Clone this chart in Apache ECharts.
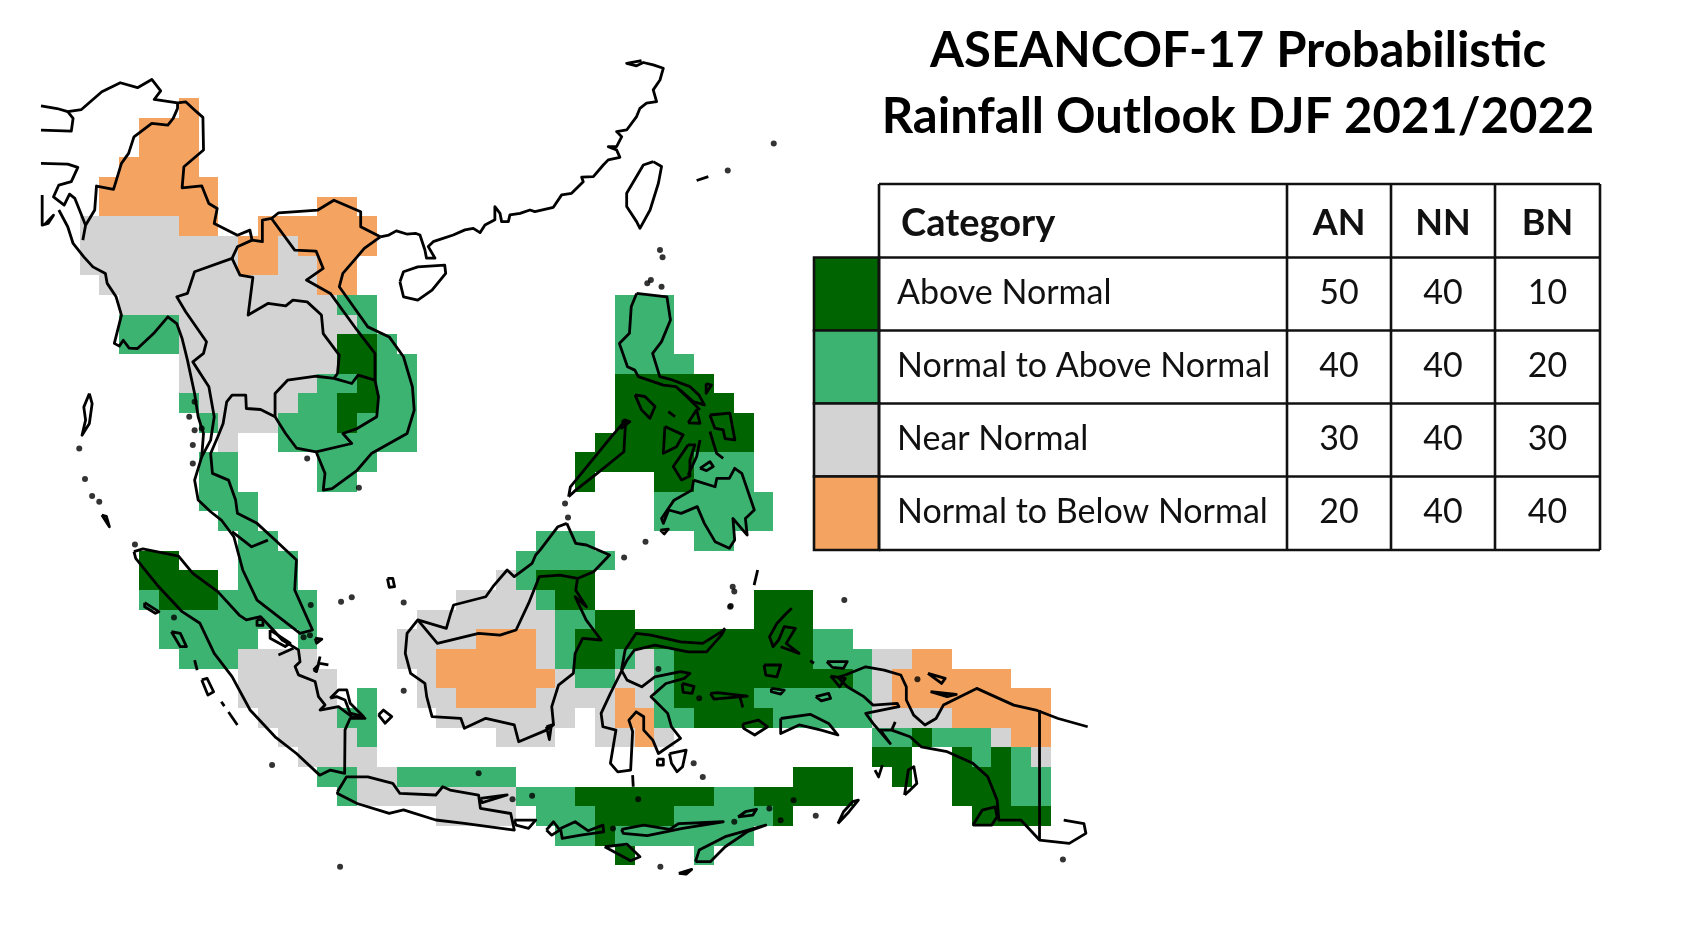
<!DOCTYPE html>
<html><head><meta charset="utf-8">
<style>html,body{margin:0;padding:0;background:#fff}#c{width:1704px;height:945px}</style>
<script src="https://cdn.jsdelivr.net/npm/echarts@6/dist/echarts.min.js"></script>
</head><body><div id="c"></div>
<script>
const titleLines = ["ASEANCOF-17 Probabilistic", "Rainfall Outlook DJF 2021/2022"];
const tableHeader = ["Category", "AN", "NN", "BN"];
const categories = ["Above Normal", "Normal to Above Normal", "Near Normal", "Normal to Below Normal"];
const anValues = [50, 40, 30, 20];
const nnValues = [40, 40, 40, 40];
const bnValues = [10, 20, 30, 40];
const categoryColors = ["#006400", "#3CB371", "#D3D3D3", "#F4A460"];

// one-degree cells, as runs: [lat, lonStart, lonEnd]
const aboveNormalRuns = [[16,106,107],[15,106,107],[14,107,107],[13,106,107],[12,106,106],
[14,120,124],[13,120,125],[12,120,126],[11,119,126],[10,118,123],[9,118,118],[9,122,123],
[5,96,97],[4,96,99],[4,116,118],[3,97,99],[3,117,118],[3,127,129],[2,119,120],[2,127,129],[1,118,129],
[0,118,119],[0,123,129],[-1,123,131],[-2,123,126],[-3,124,127],[-4,135,135],[-5,133,134],[-5,137,137],[-5,139,139],
[-6,129,131],[-6,134,134],[-6,137,139],[-7,118,124],[-7,127,131],[-7,137,139],[-8,119,122],[-8,128,128],[-8,138,141],[-9,119,119],[-10,120,120]];
const normalToAboveRuns = [[18,106,107],[17,95,97],[17,107,107],[16,95,97],[16,108,108],[15,108,109],[14,105,106],[14,108,109],
[13,98,98],[13,104,105],[13,108,109],[12,99,99],[12,103,105],[12,107,109],[11,103,109],[10,99,100],[10,105,107],[9,99,100],[9,105,106],
[8,99,101],[7,100,101],[6,101,102],[6,116,118],[18,120,122],[17,120,122],[16,120,122],[15,120,123],[10,124,126],[9,124,126],[8,122,127],[7,122,127],[6,124,125],
[5,101,103],[5,115,119],[4,101,103],[4,115,115],[3,96,96],[3,100,104],[3,116,116],[2,97,104],[2,117,118],[1,97,101],[1,104,104],[1,117,117],[1,130,131],
[0,98,100],[0,117,117],[0,120,120],[0,122,122],[0,130,132],[-1,118,119],[-1,122,122],[-1,132,132],[-2,107,107],[-2,122,122],[-2,127,132],
[-3,106,107],[-3,122,123],[-3,128,132],[-4,107,107],[-4,133,134],[-4,136,138],[-5,138,138],[-5,140,140],[-6,105,106],[-6,109,114],[-6,140,141],
[-7,106,106],[-7,115,117],[-7,125,126],[-7,140,141],[-8,116,118],[-8,123,127],[-9,117,118],[-9,120,126],[-10,124,124]];
const nearNormalRuns = [[22,93,97],[21,93,100],[21,103,103],[20,93,100],[20,103,104],[19,94,104],[18,95,105],[17,98,106],[16,98,105],[15,98,105],[14,98,104],
[13,99,103],[12,100,102],[11,100,100],[4,114,114],[3,112,115],[2,110,116],[1,109,112],[1,116,116],[0,101,104],[0,109,110],[0,116,116],[0,121,121],[0,133,134],
[-1,101,105],[-1,110,110],[-1,117,117],[-1,120,121],[-1,133,133],[-2,101,105],[-2,110,111],[-2,116,119],[-2,121,121],[-2,133,133],
[-3,102,105],[-3,111,117],[-3,119,119],[-3,133,136],[-4,103,106],[-4,114,116],[-4,119,120],[-4,122,122],[-4,139,139],[-5,104,107],[-5,141,141],[-6,107,108],[-7,107,114],[-8,111,114]];
const normalToBelowRuns = [[28,98,98],[27,96,98],[26,96,98],[25,95,98],[24,94,99],[23,94,99],[23,105,106],[22,98,99],[22,102,107],[21,101,102],[21,104,107],
[20,101,102],[20,105,106],[19,105,106],[1,113,115],[0,111,115],[0,135,136],[-1,111,116],[-1,134,139],[-2,112,115],[-2,120,120],[-2,134,141],[-3,120,121],[-3,137,141],[-4,121,121],[-4,140,141]];

// borders and coasts as [lon, lat, lon, lat, ...]
const mainlandNorthBorder = [90.55,28.12,91.36,27.98,91.9,27.82,92.59,27.93,93.62,28.83,94.55,29.29,95.42,29.04,96.14,29.46,96.59,28.88,96.26,28.44,97.44,28.27,97.85,28.32,98.39,27.82,98.72,27.53,98.75,25.87,97.76,25.02,97.67,23.95,98.66,24.05,99.02,23.15,99.44,22.9,99.29,22.14,100.46,21.54,101.09,21.8,101.2,21.29,101.72,21.21,101.72,22.31,102.18,22.39,102.54,22.68,104.52,22.82,105.33,23.32,106.68,22.73,106.68,21.97,107.67,21.46];
const chinaCoast = [107.67,21.46,108.1,21.55,108.48,21.76,109.0,21.6,109.47,21.63,109.67,21.55,109.92,20.79,110.0,20.37,110.43,20.37,110.09,20.96,110.34,21.21,110.68,21.33,111.35,21.55,111.94,21.81,112.36,21.89,112.7,21.67,112.95,22.06,113.45,22.32,113.45,22.99,113.71,22.65,113.79,22.23,114.13,22.23,114.21,22.57,114.72,22.65,115.22,22.82,115.47,22.74,116.4,22.96,116.82,23.59,117.32,23.67,117.91,24.26,117.83,24.49,118.42,24.52,118.92,25.11,119.17,25.37,119.76,25.5,119.59,25.88,119.17,26.04,119.59,26.04,119.85,26.55,119.59,26.81,120.1,26.89,120.6,27.57,120.77,27.99,121.1,28.25,121.61,28.33,121.44,28.93,121.78,29.43,121.95,30.03,121.44,30.2,120.94,30.32,120.6,30.15,120.1,30.28,120.85,30.42];
const myanmarWestBorder = [97.44,28.27,97.44,27.99,97.22,27.48,96.95,27.14,96.14,27.22,95.24,26.54,94.97,25.7,94.61,25.19,94.21,23.87,93.35,24.04,93.26,22.82,92.8,22.05,92.66,21.29];
const indiaBorderA = [90.55,26.88,92.08,26.83,92.17,27.48,91.9,27.82];
const indiaBorderB = [90.55,25.19,91.9,25.15,92.41,24.99,92.08,24.26,91.45,24.09,91.18,23.49,91.72,23.07,91.99,23.63,92.26,23.41,92.8,22.05];
const bangladeshCoast = [90.61,23.58,90.61,22.05,90.91,22.14,91.18,22.56,90.75,22.1];
const myanmarCoast = [91.45,22.82,91.9,21.97,92.17,21.12,92.71,20.44,93.17,19.93,93.8,19.59,93.89,19.09,94.34,18.41,94.61,17.48,94.25,16.04,94.5,15.9,94.7,16.2,95.0,15.8,95.42,15.78,96.23,16.54,96.95,17.39,97.4,17.05,97.67,16.29,97.94,15.19,98.3,13.49,98.48,12.31,98.75,11.46,98.66,10.27,98.3,9.09,98.48,8.08,99.11,7.48,99.65,7.06,100.28,6.21,100.73,4.52,101.45,2.99,103.62,1.3,104.25,1.47,103.35,3.5,103.44,5.03,102.36,6.04,101.45,6.89,100.46,7.4,100.37,8.08,100.01,9.09,99.2,9.43,99.11,10.44,99.47,11.29,99.74,11.97,99.92,13.07,100.19,13.41,100.88,13.41,100.91,12.73,101.63,12.68,102.36,12.31,102.89,11.46,103.44,10.72,104.43,10.53,104.88,9.43,104.79,8.58,105.24,8.66,106.5,9.59,107.22,10.44,109.02,11.46,109.38,12.65,109.29,13.83,108.84,15.36,108.12,16.37,107.04,16.88,106.32,17.9,105.6,18.92,105.78,19.6,106.5,20.44,106.86,20.87,107.67,21.46];
const thaiMyanmarBorder = [100.19,20.36,98.3,19.68,97.94,18.58,97.4,18.41,97.85,17.65,98.9,16.12,98.75,15.53,98.21,15.1,99.02,13.83,99.29,12.31,99.11,11.12,98.66,10.27];
const laosVietnamBorder = [102.18,22.39,103.35,20.78,104.43,20.73,104.79,19.85,103.94,19.26,105.15,18.58,106.5,16.71,107.4,15.53,107.4,14.17,107.58,13.32,107.49,12.31,106.5,11.71,105.78,11.46,106.23,10.95,104.43,10.53];
const laosThaiBorder = [100.19,20.36,100.59,19.51,101.24,19.39,101.0,17.48,102.0,18.07,102.9,17.95,103.26,18.24,103.98,18.15,104.7,17.48,104.79,16.54,105.6,15.44,105.51,14.51,105.33,14.26];
const cambodiaBorder = [102.36,12.31,102.36,13.49,102.99,14.17,104.43,14.37,105.33,14.26,106.23,14.0,106.55,14.43,107.4,14.17];
const myanmarLaosBorder = [100.19,20.36,100.46,20.95,101.2,21.29];
const malayBorder = [100.19,6.47,101.18,5.7,102.0,6.04];
const borneoBorder = [109.56,1.98,110.55,0.79,112.63,1.3,113.71,1.21,114.52,1.47,115.15,2.82,115.69,4.18,116.73,4.26,117.62,4.09];
const newGuineaNorth = [131.13,-0.82,132.16,-0.4,133.09,-0.57,133.93,-0.82,134.21,-1.42,134.21,-2.09,134.58,-2.86,135.15,-3.36,135.71,-3.03,136.08,-2.35,136.92,-1.92,137.76,-1.5,139.63,-2.35,140.75,-2.6,141.87,-3.03,143.36,-3.45];
const newGuineaSouth = [131.13,-0.82,130.76,-0.94,131.23,-1.42,132.07,-1.92,132.53,-2.35,133.75,-2.26,133.84,-2.43,132.16,-2.77,132.53,-3.28,133.4,-4.3,132.9,-3.62,133.47,-3.62,134.4,-3.96,134.96,-4.47,136.27,-4.72,137.57,-5.31,138.32,-5.99,138.79,-7.18,138.88,-8.2,140.0,-8.2,140.93,-9.21,142.43,-9.38,143.27,-8.87,143.17,-8.37,142.15,-8.2];
const bomberaiSpur = [133.47,-3.62,133.65,-3.2];
const papuaBorder = [140.93,-2.6,140.93,-9.21];
const halmaheraCoast = [128.43,2.57,128.15,2.31,127.68,1.8,127.31,1.13,127.49,0.62,127.77,0.96,128.05,1.64,128.61,1.55,128.15,0.79,128.8,0.28,127.87,0.62];
const openBorders = [mainlandNorthBorder,chinaCoast,myanmarWestBorder,indiaBorderA,indiaBorderB,bangladeshCoast,myanmarCoast,thaiMyanmarBorder,laosVietnamBorder,laosThaiBorder,cambodiaBorder,myanmarLaosBorder,malayBorder,borneoBorder,newGuineaNorth,newGuineaSouth,bomberaiSpur,papuaBorder,halmaheraCoast,
[102.53,0.2,103.29,0.54],[120.4,-5.91,120.43,-6.5],[125.81,-1.92,125.96,-2.47],[99.65,-2.18,99.8,-2.4],[100.01,-2.7,100.46,-3.36],[98.3,-0.06,98.43,-0.57],[126.71,4.52,126.53,3.75],[132.63,-5.65,132.81,-6.0,133.0,-5.4],[129.36,-0.09,129.55,-0.22],
[124.3,11.56,124.64,10.45,124.97,10.2],[123.8,11.13,123.63,10.28,123.2,9.35],[122.79,13.67,123.8,12.66],[122.2,12.57,122.54,12.32],[123.63,24.32,124.22,24.52],[104.63,0.12,104.55,-0.22,105.05,-0.31]];

// closed outlines
const sumatra = [95.24,5.45,95.69,5.59,97.49,5.23,98.21,4.35,99.47,3.42,100.55,2.23,100.91,1.98,101.63,2.15,102.27,1.47,102.72,0.96,103.54,0.46,103.62,-0.14,103.37,-0.39,103.54,-0.81,104.38,-1.15,104.55,-1.92,104.88,-2.34,104.63,-2.6,105.56,-2.43,106.23,-2.93,106.9,-3.02,106.15,-3.02,105.89,-3.61,105.87,-5.82,105.15,-5.65,104.61,-5.91,103.44,-4.81,102.36,-3.96,101.1,-2.6,100.19,-0.9,99.29,0.28,98.57,1.81,97.67,2.4,96.41,3.76,95.33,5.11];
const java = [105.51,-6.75,105.96,-6.0,107.04,-6.0,108.3,-6.33,108.66,-6.84,110.47,-6.92,110.82,-6.5,111.19,-6.67,112.63,-6.92,112.72,-7.6,114.25,-7.86,114.43,-8.7,111.91,-8.36,110.47,-8.19,108.84,-7.68,108.12,-7.85,106.5,-7.35,105.51,-6.84];
const borneo = [117.08,6.89,116.63,6.72,115.73,5.53,115.51,5.28,115.33,4.86,114.43,4.18,114.07,4.52,113.35,3.67,112.99,3.16,111.37,2.74,111.22,2.31,111.0,1.55,109.56,1.98,109.02,1.3,108.93,0.28,109.2,-0.74,109.92,-1.24,110.01,-1.92,110.28,-2.94,111.73,-3.02,111.91,-3.53,112.99,-3.02,114.43,-3.36,114.65,-4.21,116.05,-3.62,116.41,-3.36,116.32,-2.43,116.66,-1.33,117.41,-0.74,117.5,0.28,117.88,1.04,118.81,0.96,118.06,1.97,117.5,3.16,118.07,2.65,117.53,3.49,117.62,4.09,118.43,4.43,119.24,5.28,118.07,5.79,117.53,5.87];
const sulawesi = [125.07,1.55,124.88,1.21,124.13,0.36,123.2,0.36,121.52,0.7,120.49,0.45,120.12,-0.06,119.74,-0.82,119.28,-1.75,118.81,-2.77,118.9,-3.45,119.56,-3.62,119.28,-5.31,119.65,-5.74,120.3,-5.65,120.4,-3.7,120.21,-3.11,120.58,-2.69,120.96,-2.94,120.96,-3.62,121.42,-4.13,121.7,-4.81,122.82,-4.04,122.36,-3.45,122.17,-2.77,121.33,-1.92,122.08,-1.25,123.01,-0.99,123.29,-0.74,122.82,-0.65,121.52,-0.91,120.86,-1.42,120.12,-1.08,119.84,-0.57,120.02,0.45,120.58,1.3,121.33,1.21,122.82,0.87,123.94,0.79,124.88,1.38];
const luzon = [120.6,18.58,122.13,18.41,122.31,17.23,121.86,16.13,121.41,15.53,121.77,14.35,122.4,14.18,123.3,13.84,123.75,13.41,124.02,12.91,123.48,13.07,122.58,13.84,121.95,13.92,120.69,14.35,120.51,14.68,120.14,14.85,119.73,16.04,120.24,16.55,120.33,17.9];
const mindanao = [123.48,9.09,124.56,8.75,124.65,9.18,125.28,9.18,125.55,9.69,125.91,9.43,126.54,7.57,126.09,7.14,126.18,6.29,125.46,7.14,125.55,6.04,125.28,5.62,124.56,5.96,124.02,6.89,123.66,7.74,122.85,7.4,122.22,7.57,121.95,6.89,121.86,7.14,122.49,8.07,123.39,8.58];
const smallIslands = [
[108.66,19.17,108.84,19.68,109.56,19.93,110.92,20.02,110.97,19.6,110.28,18.75,109.56,18.24,108.84,18.41],
[121.44,25.28,121.86,25.03,121.7,24.18,121.28,22.82,120.77,21.89,120.6,22.23,120.1,23.0,120.1,23.67,120.94,25.11],
[92.99,13.49,92.71,12.8,92.8,12.14,92.62,11.37,92.99,11.97,93.13,12.98],[93.62,7.31,94.0,6.72,93.85,7.25],
[105.14,-2.0,105.56,-1.58,105.98,-1.58,106.15,-2.26,106.82,-2.93,106.15,-2.76,105.89,-2.09,105.47,-1.92],[107.58,-2.85,107.83,-2.6,108.25,-2.93,107.91,-3.27],
[102.11,1.47,103.12,0.8,102.87,0.63,102.11,1.05],[104.38,1.05,104.72,1.0,104.46,0.8],[104.3,-0.56,104.55,-0.3,104.45,-0.65],[101.45,2.0,101.75,2.0,101.75,1.7,101.45,1.7],
[108.03,4.09,108.3,4.09,108.39,3.67,108.12,3.64],[95.78,2.86,96.5,2.4,96.32,2.32,95.78,2.65],[97.13,1.38,97.58,1.3,97.89,0.62,97.58,0.62],[98.66,-1.07,98.93,-0.99,99.26,-1.67,98.97,-1.84],
[112.72,-7.09,114.07,-6.92,112.81,-7.31],[114.43,-8.2,115.51,-8.2,115.15,-8.62,114.52,-8.45],[116.05,-8.7,116.41,-8.28,116.73,-8.7,116.32,-8.96],
[116.05,-3.45,116.3,-3.36,116.2,-4.1],[122.26,-4.81,123.1,-4.64,122.92,-5.48,122.64,-5.74,122.36,-5.31],[121.65,-5.1,121.95,-5.1,121.95,-5.4,121.65,-5.4],[122.9,-1.25,123.5,-1.4,123.4,-1.75,122.95,-1.7],
[124.32,-1.75,124.69,-1.72,126.18,-1.89,124.5,-2.04],[127.03,-0.31,127.87,-0.31,127.68,-0.91,127.12,-0.82],[127.4,-1.5,128.05,-1.59,127.87,-1.79,127.4,-1.67],[129.64,-1.92,130.29,-1.75,130.39,-2.01,129.92,-2.13],
[130.2,-0.14,131.23,-0.14,131.04,-0.48,130.48,-0.43],[130.39,-0.87,131.13,-0.99,130.85,-1.42,130.57,-1.08],[125.96,-3.31,126.75,-3.11,127.21,-3.45,126.56,-3.87,126.0,-3.53],[127.87,-3.03,129.36,-2.82,130.29,-3.28,130.76,-3.87,129.92,-3.62,128.8,-3.36,127.87,-3.79],
[137.57,-8.45,138.04,-7.69,138.69,-7.52,138.79,-8.03,138.51,-8.45],[134.12,-6.92,134.31,-5.65,134.59,-5.48,134.74,-6.33,134.4,-6.67],[135.3,-0.74,136.17,-0.99,135.99,-1.25],[135.43,-1.67,136.73,-1.81,136.27,-1.92],
[130.76,-8.37,131.32,-7.77,131.79,-7.18,131.5,-7.26,131.04,-7.77],[123.57,-10.31,123.76,-9.72,125.07,-9.04,127.12,-8.45,126.18,-8.79,125.07,-9.55,124.32,-10.31],[122.73,-10.9,123.38,-10.7,123.1,-10.94],
[125.72,-8.03,126.09,-7.77,126.65,-7.65,126.47,-7.94],[119.84,-8.67,120.96,-8.45,122.27,-8.67,122.73,-8.37,124.97,-8.28,122.92,-8.62,121.14,-8.99,119.93,-8.87],[118.99,-9.55,120.12,-9.42,120.77,-10.06,120.3,-10.26],[116.76,-8.62,117.5,-8.28,118.16,-8.74,118.9,-8.45,118.94,-8.79,117.78,-8.96,116.85,-9.13],
[120.52,13.42,121.02,13.34,121.53,12.83,121.27,12.23,120.85,12.66],[117.17,8.24,117.26,8.75,119.33,11.3,120.05,12.14,119.96,10.53,118.61,9.43,117.53,8.58],[119.93,12.15,120.26,12.06,119.84,11.73],[122.03,11.81,122.95,11.39,122.62,10.79,121.95,10.45],[123.2,10.88,122.79,10.28,122.45,9.78,122.87,9.1,123.29,9.3,123.29,10.1,123.54,10.88],[124.3,12.4,125.31,12.49,125.56,11.13,125.06,11.2,124.97,11.64,124.55,11.73],[123.2,12.0,123.63,12.66,123.8,11.98],[124.11,14.0,124.38,13.92,124.11,13.5],[123.8,9.69,124.3,10.03,124.47,9.78,124.13,9.57],[121.8,6.55,122.2,6.6,122.0,6.35]];
const islandDots = [[92.48,10.7],[92.77,9.14],[93.13,8.28],[93.49,7.99],[95.29,5.82],[98.3,13.07],[98.03,12.31],[98.3,11.63],[98.66,11.71],[98.21,10.87],[98.21,9.93],[103.98,10.19],[106.59,8.7],[104.16,2.74],[105.69,2.91],[106.23,3.13],[108.85,2.87],[108.85,-1.62],[97.26,2.11],[102.21,-5.4],[105.64,-10.57],[112.63,-5.82],[115.33,-6.96],[114.34,-7.14],[123.48,-5.31],[123.94,-6.0],[121.7,-0.52],[123.76,-2.0],[125.35,2.69],[125.53,3.42],[131.08,2.99],[125.45,3.67],[125.32,2.65],[134.77,-1.04],[142.11,-10.2],[129.64,-7.97],[127.87,-8.2],[127.3,-7.6],[121.8,-10.57],[125.53,-8.28],[119.41,-8.62],[120.68,-7.14],[128.52,-7.18],[119.97,5.16],[121.05,5.96],[116.99,7.9],[117.14,7.19],[121.32,19.26],[121.14,19.1],[121.86,18.92],[127.52,26.2],[125.2,24.83],[121.78,20.79],[121.91,20.42],[103.8,1.1],[104.12,1.2]];

function cellsFromRuns(runs){
  const out=[];
  runs.forEach(r=>{for(let lon=r[1];lon<=r[2];lon++) out.push([lon,r[0]]);});
  return out;
}
function toPairs(flat){const p=[];for(let i=0;i+1<flat.length;i+=2)p.push([flat[i],flat[i+1]]);return p;}
function closedPairs(flat){const p=toPairs(flat);p.push(p[0]);return p;}
const outlineData = openBorders.map(f=>({coords:toPairs(f)}))
  .concat([sumatra,java,borneo,sulawesi,luzon,mindanao].concat(smallIslands).map(f=>({coords:closedPairs(f)})));

const cellRuns=[aboveNormalRuns,normalToAboveRuns,nearNormalRuns,normalToBelowRuns];
const cellSeries=cellRuns.map((runs,i)=>({
  type:'custom',name:categories[i],coordinateSystem:'cartesian2d',silent:true,animation:false,
  encode:{x:0,y:1},data:cellsFromRuns(runs),z:2,
  renderItem:(params,api)=>{
    const lon=api.value(0),lat=api.value(1);
    const a=api.coord([lon-0.5,lat+0.5]),b=api.coord([lon+0.5,lat-0.5]);
    const x0=Math.round(a[0]),y0=Math.round(a[1]),x1=Math.round(b[0]),y1=Math.round(b[1]);
    return {type:'rect',shape:{x:x0,y:y0,width:x1-x0,height:y1-y0},style:{fill:categoryColors[i]}};
  }
}));

// table layout
const colX=[879,1287,1391,1495,1600];
const rowY=[184,257.5,330.5,403.5,476.5,550];
const swatchLeft=814;
const FONT='Lato';
const g=[];
categories.forEach((c,i)=>{
  const midY=(rowY[i+1]+rowY[i+2])/2;
  g.push({type:'rect',shape:{x:swatchLeft,y:rowY[i+1],width:colX[0]-swatchLeft,height:rowY[i+2]-rowY[i+1]},style:{fill:categoryColors[i],stroke:'#111',lineWidth:2.6},z:5});
  g.push({type:'text',x:897,y:midY-1,style:{text:c,font:'34px '+FONT,fill:'#111',textVerticalAlign:'middle',textAlign:'left'},z:6});
  [anValues,nnValues,bnValues].forEach((arr,j)=>{
    g.push({type:'text',x:(colX[j+1]+colX[j+2])/2,y:midY-1,style:{text:String(arr[i]),font:'34px '+FONT,fill:'#111',textVerticalAlign:'middle',textAlign:'center'},z:6});
  });
});
g.push({type:'text',x:901,y:(rowY[0]+rowY[1])/2+3,style:{text:tableHeader[0],font:'bold 38px '+FONT,fill:'#111',textVerticalAlign:'middle',textAlign:'left'},z:6});
for(let j=1;j<4;j++) g.push({type:'text',x:(colX[j]+colX[j+1])/2,y:(rowY[0]+rowY[1])/2+3,style:{text:tableHeader[j],font:'bold 36px '+FONT,fill:'#111',textVerticalAlign:'middle',textAlign:'center'},z:6});
rowY.forEach(y=>g.push({type:'line',shape:{x1:colX[0],y1:y,x2:colX[4],y2:y},style:{stroke:'#111',lineWidth:2.6},z:7}));
colX.forEach(x=>g.push({type:'line',shape:{x1:x,y1:rowY[0],x2:x,y2:rowY[5]},style:{stroke:'#111',lineWidth:2.6},z:7}));

const chart=echarts.init(document.getElementById('c'),null,{renderer:'canvas'});
chart.setOption({
  backgroundColor:'#fff',animation:false,
  title:{text:titleLines.join('\n'),left:1238,top:18,textAlign:'center',padding:0,textStyle:{fontFamily:FONT,fontWeight:'bold',fontSize:49,lineHeight:66,color:'#000'}},
  grid:{left:40,width:1050.46,top:19.62,height:885.15},
  xAxis:{type:'value',min:90.5,max:143.5,show:false,scale:true},
  yAxis:{type:'value',min:-12.5,max:32.5,show:false,scale:true},
  graphic:g,
  series:cellSeries.concat([
    {type:'lines',coordinateSystem:'cartesian2d',polyline:true,silent:true,z:4,data:outlineData,lineStyle:{color:'#000',width:2.8,opacity:1,join:'round'}},
    {type:'scatter',coordinateSystem:'cartesian2d',silent:true,z:4,symbol:'circle',symbolSize:6,data:islandDots,itemStyle:{color:'#000'}}
  ])
});
</script></body></html>
